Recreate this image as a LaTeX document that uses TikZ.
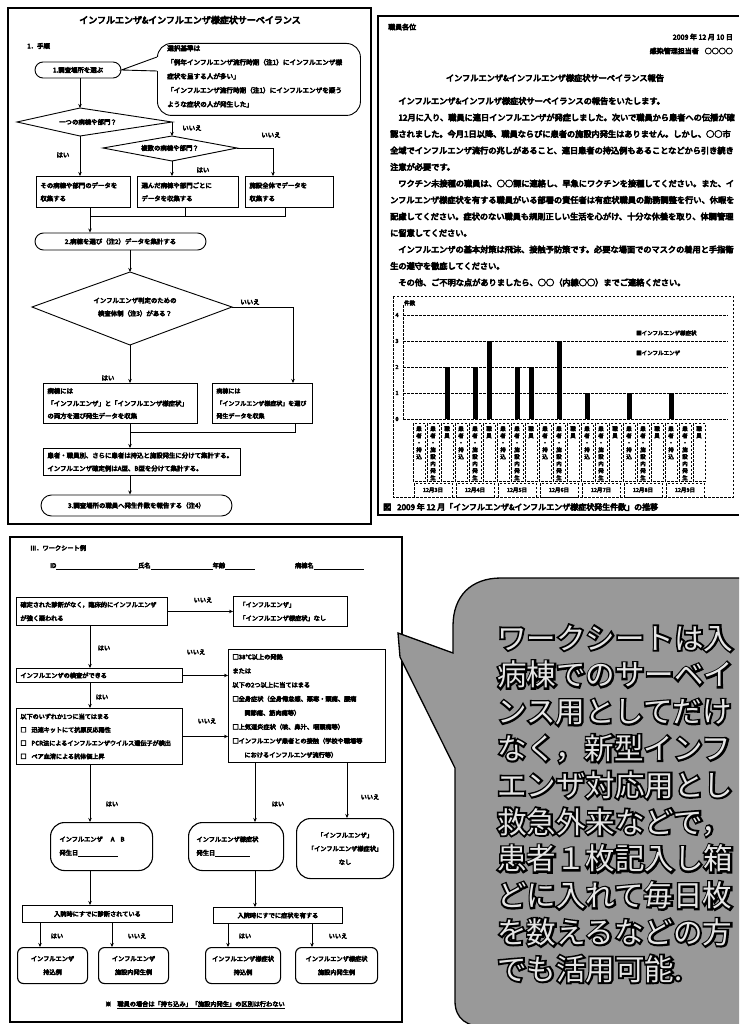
\documentclass[tikz,border=0pt]{standalone}
\usepackage{fontspec}
\setmainfont{Liberation Sans}
\newfontfamily\jp[FakeBold=7]{Noto Sans CJK JP}
\newfontfamily\jpbig{Noto Sans CJK JP}
\newfontfamily\jpout[FakeBold=12]{Noto Sans CJK JP}
\usetikzlibrary{arrows.meta,shapes.misc,calc}
\newcommand{\jptitle}{\jp\fontsize{9}{11}\selectfont}
\newcommand{\jpsmall}{\jp\fontsize{6.4}{13}\selectfont}
\newcommand{\jpbub}{\jp\fontsize{6.6}{14}\selectfont}
\newcommand{\jpbody}{\jp\fontsize{8.2}{10}\selectfont}
\newcommand{\jptiny}{\jp\fontsize{5.5}{7}\selectfont}
\newcommand{\jpws}{\jp\fontsize{6.2}{13.5}\selectfont}
\newcommand{\jpcap}{\jp\fontsize{8}{10}\selectfont}
\newcommand{\jphuge}{\fontsize{29.5}{29.5}\selectfont}
\tikzset{
  every node/.style={inner sep=0pt, text=black},
  frm/.style={draw=black, line width=1.3pt},
  bx/.style={draw, line width=0.9pt, anchor=north west, align=left, inner xsep=4pt, inner ysep=2pt, font=\jpsmall},
  stad/.style={draw, line width=0.9pt, rounded rectangle, font=\jpsmall, inner xsep=6pt},
  shp/.style={draw, line width=0.9pt},
  ln/.style={line width=0.9pt},
  arr/.style={line width=0.9pt, -{Stealth[length=4pt,width=3.5pt]}},
  lab/.style={font=\jpsmall},
  wl/.style={font=\jpws},
  rbx/.style={draw, line width=1.1pt, rounded corners=14pt, anchor=north west, font=\jpws},
  sbx/.style={draw, line width=1.1pt, rounded corners=6pt, anchor=north west, align=center, font=\jpws, minimum height=36pt},
  dsh/.style={line width=0.6pt, dash pattern=on 2.5pt off 1.5pt},
}
\begin{document}
\begin{tikzpicture}[x=1pt,y=-1pt]
\useasboundingbox[fill=white] (0,0) rectangle (739,1024);

%% ================= TOP LEFT: procedure =================
\draw[frm] (8,8) rectangle (371,524);
\node[font=\jptitle] (t1) at (190,20) {インフルエンザ\&インフルエンザ様症状サーベイランス};
\node[lab, anchor=west] (s1) at (27,46) {1．手順};
\node[stad, minimum width=98pt, minimum height=16pt] (st1) at (78,70) {1.調査場所を選ぶ};

\node[draw, line width=0.9pt, rounded corners=14pt, minimum width=203pt, minimum height=72pt, anchor=north west] (cb) at (157,43) {};
\fill[white] (155.5,57) rectangle (158.6,71);
\draw[ln] (157,57) -- (st1.east) -- (157,71);
\node[anchor=north west, align=left, font=\jpbub] (cbt) at (167,45) {選択基準は\\「例年インフルエンザ流行時期（注1）にインフルエンザ様\\症状を呈する人が多い」\\「インフルエンザ流行時期（注1）にインフルエンザを疑う\\ような症状の人が発生した」};

\coordinate (d1l) at (17,122); \coordinate (d1t) at (80,108);
\coordinate (d1r) at (172,122); \coordinate (d1b) at (80,136);
\draw[shp] (d1l) -- (d1t) -- (d1r) -- (d1b) -- cycle;
\node[lab] (d1) at (88,122) {一つの病棟や部門？};

\coordinate (d2l) at (103,148); \coordinate (d2t) at (172,136);
\coordinate (d2r) at (237,148); \coordinate (d2b) at (172,161);
\draw[shp] (d2l) -- (d2t) -- (d2r) -- (d2b) -- cycle;
\node[lab] (d2) at (170,148) {複数の病棟や部門？};

\node[lab] (n1) at (192,128) {いいえ};
\node[lab] (n2) at (271,135) {いいえ};
\node[lab] (y1) at (63,155) {はい};
\node[lab] (y2) at (203,170) {はい};

\node[bx, text width=86pt, minimum height=31pt] (b1) at (36,176) {その病棟や部門のデータを\\収集する};
\node[bx, text width=93pt, minimum height=31pt] (b2) at (137,176) {選んだ病棟や部門ごとに\\データを収集する};
\node[bx, text width=80pt, minimum height=31pt] (b3) at (245,176) {施設全体でデータを\\収集する};

\coordinate (j1) at (90,216); \coordinate (j2) at (185,216); \coordinate (j3) at (285,216);
\coordinate (k3) at (273,0); \coordinate (k5) at (293,0);

\node[stad, minimum width=183pt, minimum height=17pt] (st2) at (120.5,241.5) {2.病棟を選び（注2）データを集計する};

\coordinate (d3l) at (32,307); \coordinate (d3t) at (130,272);
\coordinate (d3r) at (232,307); \coordinate (d3b) at (130,345);
\draw[shp] (d3l) -- (d3t) -- (d3r) -- (d3b) -- cycle;
\node[lab, align=center] (d3) at (135,307) {インフルエンザ判定のための\\検査体制（注3）がある？};
\node[lab] (n3) at (250,302) {いいえ};
\node[lab] (y3) at (108,378) {はい};

\node[bx, text width=146pt, minimum height=40pt, font=\jp\fontsize{6.4}{12.5}\selectfont] (b4) at (43,383) {病棟には\\「インフルエンザ」と「インフルエンザ様症状」\\の両方を選び発生データを収集};
\node[bx, text width=92pt, minimum height=40pt, font=\jp\fontsize{6}{12.5}\selectfont] (b5) at (212,383) {病棟には\\「インフルエンザ様症状」を選び\\発生データを収集};
\coordinate (j4) at (130,432); \coordinate (j5) at (295,432);
\node[bx, text width=189pt, minimum height=27pt] (b6) at (43,448) {患者・職員別、さらに患者は持込と施設発生に分けて集計する。\\インフルエンザ確定例はA型、B型を分けて集計する。};
\node[stad, minimum width=203pt, minimum height=21pt] (st3) at (136.5,505.5) {3.調査場所の職員へ発生件数を報告する（注4）};

\draw[arr] (st1.south -| d1t) -- (d1t);
\draw[arr] (d1r) -- (d2t);
\draw[arr] (d1b) -- (d1b |- b1.north);
\draw[arr] (d2b) -- (d2b |- b2.north);
\draw[arr] (d2r) -| (b3.north -| k3);
\draw[ln] (b1.south -| j1) -- (j1) -- (j3) -- (b3.south -| j3);
\draw[ln] (b2.south -| j2) -- (j2);
\draw[arr] (j1) -- (st2.north -| j1);
\draw[arr] (st2.south -| d3t) -- (d3t);
\draw[arr] (d3r) -| (b5.north -| k5);
\draw[arr] (d3b) -- (d3b |- b4.north);
\draw[ln] (b4.south -| j4) -- (j4) -- (j5) -- (b5.south -| j5);
\draw[arr] (j4) -- (b6.north -| j4);
\draw[arr] (b6.south -| j4) -- (st3.north -| j4);

%% ================= TOP RIGHT: report =================
\draw[line width=1.2pt] (739,16) -- (378,16) -- (378,515) -- (739,515);
\node[lab, anchor=west, font=\jp\fontsize{7}{9}\selectfont] (r1) at (388,27) {職員各位};
\node[anchor=east, font=\jp\fontsize{7}{9}\selectfont] (r2) at (733,37) {2009 年 12 月 10 日};
\node[anchor=east, font=\jp\fontsize{7}{9}\selectfont] (r3) at (733,51) {感染管理担当者\hspace{6pt}○○○○};
\node[font=\jpbody] (r4) at (555,78) {インフルエンザ\&インフルエンザ様症状サーベイランス報告};
\foreach \t [count=\i] in {
　インフルエンザ\&インフルザ様症状サーベイランスの報告をいたします。,
　12月に入り、職員に連日インフルエンザが発症しました。次いで職員から患者への伝播が確,
認されました。今月1日以降、職員ならびに患者の施設内発生はありません。しかし、○○市,
全域でインフルエンザ流行の兆しがあること、連日患者の持込例もあることなどから引き続き,
注意が必要です。,
　ワクチン未接種の職員は、○○課に連絡し、早急にワクチンを接種してください。また、イ,
ンフルエンザ様症状を有する職員がいる部署の責任者は有症状職員の勤務調整を行い、休暇を,
配慮してください。症状のない職員も規則正しい生活を心がけ、十分な休養を取り、体調管理,
に留意してください。,
　インフルエンザの基本対策は飛沫、接触予防策です。必要な場面でのマスクの着用と手指衛,
生の遵守を徹底してください。,
　その他、ご不明な点がありましたら、○○（内線○○）までご連絡ください。}
  \node[anchor=west, font=\jpbody] (bl\i) at (390,{101+16.5*(\i-1)}) {\t};

% chart
\draw[dsh] (393,296) rectangle (733,497);
\node[font=\jptiny, anchor=west] (cu) at (404,303) {件数};
\draw[dsh] (403,305) -- (403,419);
\draw[dsh] (403,419) -- (728,419);
\foreach \v in {1,...,4} \draw[dsh] (403,{419-26*\v}) -- (728,{419-26*\v});
\foreach \v in {0,...,4} \node[font=\jptiny] (yv\v) at (397,{419-26*\v}) {\v};
\node[font=\jptiny, anchor=west] (lg1) at (636,333) {■インフルエンザ様症状};
\node[font=\jptiny, anchor=west] (lg2) at (636,353) {■インフルエンザ};
\foreach \x/\h in {447/2,475/2,489/3,517/2,531/2,559/3,587/1,629/1,671/1}
  \fill ({\x-2.5},419) rectangle ({\x+2.5},{419-26*\h});
\foreach \g in {0,...,6} {
  \pgfmathsetmacro{\cg}{433+42*\g}
  \draw[dsh] ({\cg-19},483) rectangle ({\cg+19},497);
  \node[font=\jptiny] (dy\g) at (\cg,490) {12月\the\numexpr\g+3\relax 日};
  \foreach \s/\lbl in {0/{患\\者\\・\\持\\込}, 1/{患\\者\\・\\施\\設\\内\\発\\生}, 2/{職\\員}} {
    \pgfmathsetmacro{\xs}{\cg-14+14*\s}
    \draw[dsh] ({\xs-6},423) rectangle ({\xs+6},481);
    \node[font=\jptiny, align=center, anchor=north] (lb\g\s) at (\xs,426) {\lbl};
  }
}
\node[anchor=west, font=\jpcap] (cap) at (383,507) {図\hspace{6pt}2009 年 12 月「インフルエンザ\&インフルエンザ様症状発生件数」の推移};

%% ================= BOTTOM LEFT: worksheet =================
\draw[line width=1.1pt] (10,537) rectangle (402,1022);
\node[wl, anchor=west] (w0) at (30,548) {Ⅲ．ワークシート例};
\node[wl, anchor=west] (w1) at (50,566) {ID\rule[-1.5pt]{82pt}{0.5pt}氏名\rule[-1.5pt]{62pt}{0.5pt}年齢\rule[-1.5pt]{30pt}{0.5pt}\hspace{40pt}病棟名\rule[-1.5pt]{50pt}{0.5pt}};

\node[bx, font=\jpws, text width=143pt, minimum height=28pt] (A) at (16,597) {確定された診断がなく，臨床的にインフルエンザ\\が強く疑われる};
\node[bx, font=\jpws, text width=102pt, minimum height=30pt, inner xsep=6pt] (B) at (233,596) {「インフルエンザ」\\「インフルエンザ様症状」なし};
\node[bx, font=\jpws, text width=158pt, minimum height=14pt] (C) at (16,668) {インフルエンザの検査ができる};
\node[bx, font=\jp\fontsize{6.2}{14}\selectfont, text width=149pt, minimum height=113pt] (D) at (228,649) {□38℃以上の発熱\\または\\以下の2つ以上に当てはまる\\□全身症状（全身倦怠感、悪寒・頭痛、腰痛\\\hspace{12pt}関節痛、筋肉痛等）\\□上気道炎症状（咳、鼻汁、咽頭痛等）\\□インフルエンザ患者との接触（学校や職場等\\\hspace{12pt}におけるインフルエンザ流行等）};
\node[bx, font=\jp\fontsize{6.1}{13.3}\selectfont, text width=158pt, minimum height=56pt] (E) at (16,708) {以下のいずれか1つに当てはまる\\□\hspace{5pt}迅速キットにて抗原反応陽性\\□\hspace{5pt}PCR法によるインフルエンザウイルス遺伝子が検出\\□\hspace{5pt}ペア血清による抗体価上昇};

\node[rbx, text width=84pt, inner xsep=9pt, minimum height=48pt, align=left] (F) at (50,822) {インフルエンザ\hspace{8pt}A\hspace{6pt}B\\発生日\rule[-1.5pt]{40pt}{0.5pt}};
\node[rbx, text width=79pt, inner xsep=8pt, minimum height=48pt, align=left] (G) at (188,822) {インフルエンザ様症状\\発生日\rule[-1.5pt]{35pt}{0.5pt}};
\node[rbx, minimum width=97pt, minimum height=60pt, align=center] (H) at (296,818) {「インフルエンザ」\\「インフルエンザ様症状」\\なし};

\node[draw, line width=0.9pt, anchor=north west, minimum width=150pt, minimum height=17pt, font=\jpws] (I) at (22,905) {入院時にすでに診断されている};
\node[draw, line width=0.9pt, anchor=north west, minimum width=129pt, minimum height=16pt, font=\jpws] (J) at (213,907) {入院時にすでに症状を有する};

\node[sbx, minimum width=70pt] (K) at (17,947) {インフルエンザ\\持込例};
\node[sbx, minimum width=70pt] (L) at (98,947) {インフルエンザ\\施設内発生例};
\node[sbx, minimum width=75pt] (M) at (205,947) {インフルエンザ様症状\\持込例};
\node[sbx, minimum width=82pt] (N) at (295,947) {インフルエンザ様症状\\施設内発生例};

\node[wl, anchor=west] (fn) at (105,1005) {※\hspace{6pt}\underline{職員の場合は「持ち込み」「施設内発生」の区別は行わない}};

\coordinate (vA) at (90,0); \coordinate (vG) at (255,0); \coordinate (vH) at (347,0);
\coordinate (vK) at (40,0); \coordinate (vL) at (112,0); \coordinate (vM) at (228,0); \coordinate (vN) at (312,0);

\draw[arr] (A.east) -- (A.east -| B.west);
\draw[arr] (A.south -| vA) -- (C.north -| vA);
\draw[arr] (C.east) -- (C.east -| D.west);
\draw[arr] (C.south -| vA) -- (E.north -| vA);
\draw[arr] (E.east) -- (E.east -| D.west);
\draw[arr] (E.south -| vA) -- (F.north -| vA);
\draw[arr] (D.south -| vG) -- (G.north -| vG);
\draw[arr] (D.south -| vH) -- (H.north -| vH);
\draw[arr] (F.south -| vA) -- (I.north -| vA);
\draw[arr] (G.south -| vG) -- (J.north -| vG);
\draw[arr] (I.south -| vK) -- (K.north -| vK);
\draw[arr] (I.south -| vL) -- (L.north -| vL);
\draw[arr] (J.south -| vM) -- (M.north -| vM);
\draw[arr] (J.south -| vN) -- (N.north -| vN);

\node[wl] (wn1) at (203,600) {いいえ};
\node[wl] (wy1) at (104,648) {はい};
\node[wl] (wn2) at (196,652) {いいえ};
\node[wl] (wy2) at (102,697) {はい};
\node[wl] (wn3) at (207,721) {いいえ};
\node[wl] (wy3) at (112,804) {はい};
\node[wl] (wy4) at (278,804) {はい};
\node[wl] (wn4) at (370,797) {いいえ};
\node[wl] (wy5) at (57,936) {はい};
\node[wl] (wn5) at (137,936) {いいえ};
\node[wl] (wy6) at (245,936) {はい};
\node[wl] (wn6) at (338,936) {いいえ};

%% ================= BOTTOM RIGHT: callout =================
\begin{scope}
\clip (0,0) rectangle (739,1024);
\draw[line width=1.3pt, fill=black!40] (398,633) -- (453,653) -- (453,626) .. controls (453,596) and (471,578) .. (501,578) -- (760,578) -- (760,1027) -- (487,1027) .. controls (467,1027) and (455,1019) .. (455,1001) -- (455,768) -- (400,657) -- cycle;
\end{scope}
\foreach \t [count=\i] in {ワークシートは入,病棟でのサーベイ,ンス用としてだけ,なく，新型インフ,エンザ対応用とし,救急外来などで，,患者１枚記入し箱,どに入れて毎日枚,を数えるなどの方,でも活用可能.} {
  \node[anchor=base west, font=\jpout\jphuge, text=black] (bo\i) at (497,{649+36.8*(\i-1)}) {\t};
  \node[anchor=base west, font=\jpbig\jphuge, text=white!90!black] (bi\i) at (497,{649+36.8*(\i-1)}) {\t};
}
\end{tikzpicture}
\end{document}
